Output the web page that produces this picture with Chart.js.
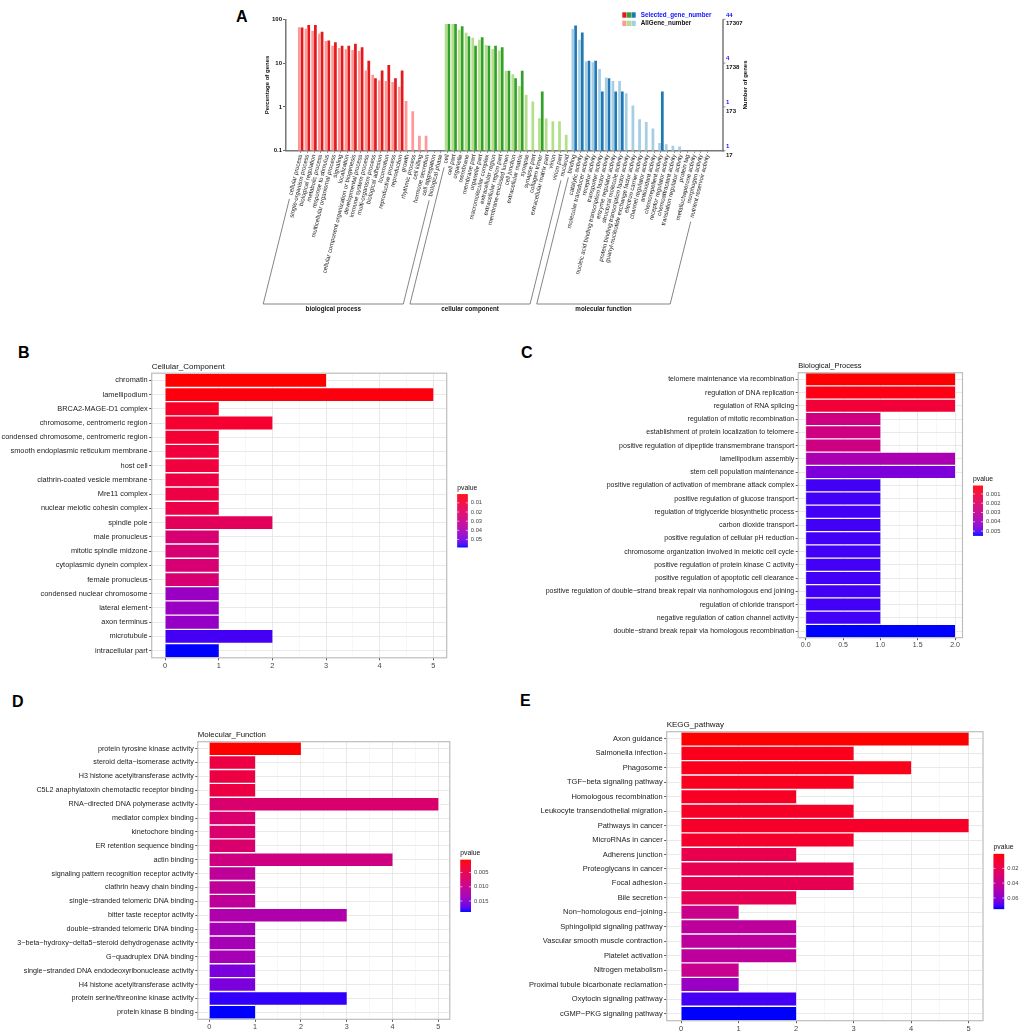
<!DOCTYPE html>
<html>
<head>
<meta charset="utf-8">
<script src="https://cdn.jsdelivr.net/npm/chart.js@4.4.1/dist/chart.umd.min.js"></script>
<style>
  body { margin: 0; background: #fff; }
  #page { position: relative; width: 1021px; height: 1032px; overflow: hidden;
          font-family: "Liberation Sans", Arial, Helvetica, sans-serif; }
  canvas { position: absolute; }
  .tag { position: absolute; font-weight: bold; font-size: 16px; line-height: 16px; color: #000; }
</style>
</head>
<body>
<div id="page">
  <div class="tag" style="left:236px;top:9px">A</div>
  <div class="tag" style="left:18px;top:345px">B</div>
  <div class="tag" style="left:521px;top:345px">C</div>
  <div class="tag" style="left:12px;top:694px">D</div>
  <div class="tag" style="left:520px;top:693px">E</div>
  <canvas id="goChart" width="540" height="325" style="left:230px;top:0"></canvas>
  <canvas id="ccChart" width="520" height="330" style="left:0;top:340px"></canvas>
  <canvas id="bpChart" width="501" height="330" style="left:520px;top:340px"></canvas>
  <canvas id="mfChart" width="520" height="352" style="left:0;top:680px"></canvas>
  <canvas id="keggChart" width="501" height="352" style="left:520px;top:680px"></canvas>
</div>
<script>
// ---- panel A : GO classification (percent of genes, log scale) ----
const goBpTerms = ['cellular process', 'single-organism process', 'biological regulation', 'metabolic process',
  'response to stimulus', 'multicellular organismal process', 'signaling', 'localization',
  'cellular component organization or biogenesis', 'developmental process', 'immune system process',
  'multi-organism process', 'biological adhesion', 'locomotion', 'reproductive process', 'reproduction',
  'growth', 'rhythmic process', 'cell killing', 'hormone secretion', 'cell aggregation', 'biological phase'];
const goBpAll = [66, 61, 55, 47, 32, 25, 22, 20.6, 20, 19, 6.8, 5.4, 4.0, 3.9, 3.7, 2.9, 1.37, 0.8, 0.22, 0.22, null, null];
const goBpSel = [65, 74, 74, 52, 33, 30, 25, 25, 27.7, 23, 11.3, 4.5, 6.8, 9.0, 4.5, 6.8, null, null, null, null, null, null];

const goCcTerms = ['cell', 'cell part', 'organelle', 'membrane', 'membrane part', 'organelle part',
  'macromolecular complex', 'extracellular region', 'extracellular region part', 'membrane-enclosed lumen',
  'cell junction', 'extracellular matrix', 'synapse', 'synapse part', 'collagen trimer',
  'extracellular matrix part', 'virion', 'virion part', 'nucleoid'];
const goCcAll = [78, 78, 58, 49.6, 38, 34, 25.8, 21, 19.5, 6.7, 5.6, 3.0, 1.9, 1.32, 0.55, 0.54, 0.47, 0.47, 0.23];
const goCcSel = [78, 78, 69, 41, 25, 39, 25, 25, 23, 6.7, 4.5, 6.7, null, null, 2.24, null, null, null, null];

const goMfTerms = ['binding', 'catalytic activity', 'molecular transducer activity', 'receptor activity',
  'transporter activity', 'nucleic acid binding transcription factor activity', 'enzyme regulator activity',
  'structural molecule activity', 'protein binding transcription factor activity',
  'guanyl-nucleotide exchange factor activity', 'electron carrier activity', 'channel regulator activity',
  'antioxidant activity', 'chemorepellent activity', 'receptor regulator activity', 'chemoattractant activity',
  'translation regulator activity', 'protein tag', 'metallochaperone activity', 'morphogen activity',
  'nutrient reservoir activity'];
const goMfAll = [60, 34, 10.9, 10.4, 7.3, 4.7, 3.9, 3.9, 2.06, 1.07, 0.52, 0.45, 0.32, 0.15, 0.14, 0.13, 0.125, null, null, null, null];
const goMfSel = [72, 50, 11.3, 11.3, 2.24, 4.5, 2.24, 2.24, null, null, null, null, null, 2.24, null, null, null, null, null, null, null];

const goGroupNames = ['biological process', 'cellular component', 'molecular function'];
const goLeftTicks = [0.1, 1, 10, 100];
const goLeftTickLabels = ['0.1', '1', '10', '100'];
const goRightSelLabels = ['1', '1', '4', '44'];
const goRightAllLabels = ['17', '173', '1738', '17307'];

// ---- panel B : Cellular_Component ----
const cellCompTerms = ['chromatin', 'lamellipodium', 'BRCA2-MAGE-D1 complex', 'chromosome, centromeric region',
  'condensed chromosome, centromeric region', 'smooth endoplasmic reticulum membrane', 'host cell',
  'clathrin-coated vesicle membrane', 'Mre11 complex', 'nuclear meiotic cohesin complex', 'spindle pole',
  'male pronucleus', 'mitotic spindle midzone', 'cytoplasmic dynein complex', 'female pronucleus',
  'condensed nuclear chromosome', 'lateral element', 'axon terminus', 'microtubule', 'intracellular part'];
const cellCompCounts = [3, 5, 1, 2, 1, 1, 1, 1, 1, 1, 2, 1, 1, 1, 1, 1, 1, 1, 2, 1];
const cellCompPvals = [0.0005, 0.0017, 0.0063, 0.0074, 0.0086, 0.0103, 0.0103, 0.012, 0.012, 0.0132, 0.0178,
  0.0235, 0.0235, 0.0235, 0.0235, 0.0436, 0.0436, 0.0448, 0.0557, 0.058];
const cellCompXTicks = [0, 1, 2, 3, 4, 5];
const cellCompXLabels = ['0', '1', '2', '3', '4', '5'];
const cellCompLegendTicks = [0.01, 0.02, 0.03, 0.04, 0.05];
const cellCompLegendLabels = ['0.01', '0.02', '0.03', '0.04', '0.05'];

// ---- panel C : Biological_Process ----
const bioProcTerms = ['telomere maintenance via recombination', 'regulation of DNA replication',
  'regulation of RNA splicing', 'regulation of mitotic recombination',
  'establishment of protein localization to telomere', 'positive regulation of dipeptide transmembrane transport',
  'lamellipodium assembly', 'stem cell population maintenance',
  'positive regulation of activation of membrane attack complex', 'positive regulation of glucose transport',
  'regulation of triglyceride biosynthetic process', 'carbon dioxide transport',
  'positive regulation of cellular pH reduction', 'chromosome organization involved in meiotic cell cycle',
  'positive regulation of protein kinase C activity', 'positive regulation of apoptotic cell clearance',
  'positive regulation of double\u2212strand break repair via nonhomologous end joining',
  'regulation of chloride transport', 'negative regulation of cation channel activity',
  'double\u2212strand break repair via homologous recombination'];
const bioProcCounts = [2, 2, 2, 1, 1, 1, 2, 2, 1, 1, 1, 1, 1, 1, 1, 1, 1, 1, 1, 2];
const bioProcPvals = [0.0001, 0.0003, 0.0009, 0.0026, 0.0026, 0.0026, 0.0037, 0.0046, 0.0052, 0.0052,
  0.0052, 0.0052, 0.0052, 0.0052, 0.0052, 0.0052, 0.0052, 0.0052, 0.0052, 0.0054];
const bioProcXTicks = [0, 0.5, 1, 1.5, 2];
const bioProcXLabels = ['0.0', '0.5', '1.0', '1.5', '2.0'];
const bioProcLegendTicks = [0.001, 0.002, 0.003, 0.004, 0.005];
const bioProcLegendLabels = ['0.001', '0.002', '0.003', '0.004', '0.005'];

// ---- panel D : Molecular_Function ----
const molFuncTerms = ['protein tyrosine kinase activity', 'steroid delta\u2212isomerase activity',
  'H3 histone acetyltransferase activity', 'C5L2 anaphylatoxin chemotactic receptor binding',
  'RNA\u2212directed DNA polymerase activity', 'mediator complex binding', 'kinetochore binding',
  'ER retention sequence binding', 'actin binding', 'signaling pattern recognition receptor activity',
  'clathrin heavy chain binding', 'single\u2212stranded telomeric DNA binding', 'bitter taste receptor activity',
  'double\u2212stranded telomeric DNA binding', '3\u2212beta\u2212hydroxy\u2212delta5\u2212steroid dehydrogenase activity',
  'G\u2212quadruplex DNA binding', 'single\u2212stranded DNA endodeoxyribonuclease activity',
  'H4 histone acetyltransferase activity', 'protein serine/threonine kinase activity', 'protein kinase B binding'];
const molFuncCounts = [2, 1, 1, 1, 5, 1, 1, 1, 4, 1, 1, 1, 3, 1, 1, 1, 1, 1, 3, 1];
const molFuncPvals = [0.0005, 0.0041, 0.0041, 0.0041, 0.0074, 0.0074, 0.0074, 0.0074, 0.0088, 0.0108, 0.0108,
  0.0108, 0.0123, 0.0132, 0.0132, 0.0132, 0.0159, 0.0159, 0.0182, 0.0186];
const molFuncXTicks = [0, 1, 2, 3, 4, 5];
const molFuncXLabels = ['0', '1', '2', '3', '4', '5'];
const molFuncLegendTicks = [0.005, 0.010, 0.015];
const molFuncLegendLabels = ['0.005', '0.010', '0.015'];

// ---- panel E : KEGG_pathway ----
const keggTerms = ['Axon guidance', 'Salmonella infection', 'Phagosome', 'TGF\u2212beta signaling pathway',
  'Homologous recombination', 'Leukocyte transendothelial migration', 'Pathways in cancer', 'MicroRNAs in cancer',
  'Adherens junction', 'Proteoglycans in cancer', 'Focal adhesion', 'Bile secretion',
  'Non\u2212homologous end\u2212joining', 'Sphingolipid signaling pathway', 'Vascular smooth muscle contraction',
  'Platelet activation', 'Nitrogen metabolism', 'Proximal tubule bicarbonate reclamation',
  'Oxytocin signaling pathway', 'cGMP\u2212PKG signaling pathway'];
const keggCounts = [5, 3, 4, 3, 2, 3, 5, 3, 2, 3, 3, 2, 1, 2, 2, 2, 1, 1, 2, 2];
const keggPvals = [0.0003, 0.004, 0.0047, 0.0055, 0.0062, 0.007, 0.0077, 0.0085, 0.0188, 0.019, 0.0195, 0.02,
  0.0374, 0.0433, 0.0433, 0.0435, 0.0388, 0.0559, 0.0714, 0.0744];
const keggXTicks = [0, 1, 2, 3, 4, 5];
const keggXLabels = ['0', '1', '2', '3', '4', '5'];
const keggLegendTicks = [0.02, 0.04, 0.06];
const keggLegendLabels = ['0.02', '0.04', '0.06'];

const FONT = '"Liberation Sans", Arial, Helvetica, sans-serif';
Chart.defaults.font.family = FONT;

// red -> blue gradient interpolated in Lab, like ggplot's scale_fill_gradient
function toLin(c) { c /= 255; return c <= 0.04045 ? c / 12.92 : Math.pow((c + 0.055) / 1.055, 2.4); }
function fromLin(c) {
  const v = c <= 0.0031308 ? 12.92 * c : 1.055 * Math.pow(c, 1 / 2.4) - 0.055;
  return Math.round(Math.max(0, Math.min(1, v)) * 255);
}
function hexToLab(hex) {
  const r = toLin(parseInt(hex.slice(1, 3), 16)), g = toLin(parseInt(hex.slice(3, 5), 16)), b = toLin(parseInt(hex.slice(5, 7), 16));
  const X = (0.4124 * r + 0.3576 * g + 0.1805 * b) / 0.95047;
  const Y = 0.2126 * r + 0.7152 * g + 0.0722 * b;
  const Z = (0.0193 * r + 0.1192 * g + 0.9505 * b) / 1.08883;
  const f = t => t > 0.008856 ? Math.cbrt(t) : 7.787 * t + 16 / 116;
  return [116 * f(Y) - 16, 500 * (f(X) - f(Y)), 200 * (f(Y) - f(Z))];
}
function labToRgb(L, a, bb) {
  const fy = (L + 16) / 116, fx = a / 500 + fy, fz = fy - bb / 200;
  const inv = t => t * t * t > 0.008856 ? t * t * t : (t - 16 / 116) / 7.787;
  const X = 0.95047 * inv(fx), Y = inv(fy), Z = 1.08883 * inv(fz);
  const r = 3.2406 * X - 1.5372 * Y - 0.4986 * Z;
  const g = -0.9689 * X + 1.8758 * Y + 0.0415 * Z;
  const b = 0.0557 * X - 0.2040 * Y + 1.0570 * Z;
  return 'rgb(' + fromLin(r) + ',' + fromLin(g) + ',' + fromLin(b) + ')';
}
const labLow = hexToLab('#FF0000'), labHigh = hexToLab('#0000FF');
function gradColor(t) {
  t = Math.max(0, Math.min(1, t));
  return labToRgb(labLow[0] + (labHigh[0] - labLow[0]) * t,
                  labLow[1] + (labHigh[1] - labLow[1]) * t,
                  labLow[2] + (labHigh[2] - labLow[2]) * t);
}

// ---------- panel A ----------
const goLight = ['#FB9A99', '#B2DF8A', '#A6CEE3'];
const goDark = ['#E31A1C', '#33A02C', '#1F78B4'];
const goGroupTerms = [goBpTerms, goCcTerms, goMfTerms];
const goTerms = [].concat(goBpTerms, goCcTerms, goMfTerms);
const goAll = [].concat(goBpAll, goCcAll, goMfAll);
const goSel = [].concat(goBpSel, goCcSel, goMfSel);
const goGroupIdx = [];
goGroupTerms.forEach((arr, g) => arr.forEach(() => goGroupIdx.push(g)));

const goDecor = {
  id: 'goDecor',
  afterDraw(chart) {
    const ctx = chart.ctx, ca = chart.chartArea, ys = chart.scales.y, xs = chart.scales.x;
    ctx.save();
    // right axis
    ctx.strokeStyle = '#777';
    ctx.lineWidth = 1.5;
    ctx.beginPath();
    ctx.moveTo(ca.right, ca.top);
    ctx.lineTo(ca.right, ca.bottom + 0.75);
    ctx.stroke();
    ctx.font = 'bold 6px ' + FONT;
    ctx.textAlign = 'left';
    ctx.textBaseline = 'middle';
    ctx.lineWidth = 0.8;
    goLeftTicks.forEach((v, i) => {
      const py = ys.getPixelForValue(v);
      ctx.beginPath();
      ctx.moveTo(ca.right, py);
      ctx.lineTo(ca.right + 2.5, py);
      ctx.stroke();
      ctx.fillStyle = '#1010ff';
      ctx.fillText(goRightSelLabels[i], ca.right + 3, py - 4.3);
      ctx.fillStyle = '#111';
      ctx.fillText(goRightAllLabels[i], ca.right + 3, py + 4.3);
    });
    // right axis title
    ctx.save();
    ctx.translate(ca.right + 22, (ca.top + ca.bottom) / 2);
    ctx.rotate(-Math.PI / 2);
    ctx.textAlign = 'center';
    ctx.fillStyle = '#111';
    ctx.fillText('Number of genes', 0, 0);
    ctx.restore();

    // legend
    const lx = ca.right - 100.7;
    for (let g = 0; g < 3; g++) {
      ctx.fillStyle = goDark[g];
      ctx.fillRect(lx + g * 4.6, ca.top - 7, 4.2, 5.4);
      ctx.fillStyle = goLight[g];
      ctx.fillRect(lx + g * 4.6, ca.top + 1.4, 4.2, 5.4);
    }
    ctx.font = 'bold 6.3px ' + FONT;
    ctx.fillStyle = '#1010ff';
    ctx.fillText('Selected_gene_number', lx + 18.5, ca.top - 4.3);
    ctx.fillStyle = '#111';
    ctx.fillText('AllGene_number', lx + 18.5, ca.top + 4.2);

    // group brackets under the rotated labels
    const rot = xs.labelRotation * Math.PI / 180;
    const y0 = ca.bottom + 3;
    const yb = ca.bottom + 153.3;
    ctx.font = '6px ' + FONT;
    ctx.strokeStyle = '#666';
    ctx.lineWidth = 0.8;
    let start = 0;
    goGroupTerms.forEach((terms, g) => {
      const edge = i => {
        const px = xs.getPixelForValue(i);
        const w = ctx.measureText(goTerms[i]).width + 5;
        return { tx: px - w * Math.cos(rot), ty: y0 + w * Math.sin(rot), bx: px - (yb - y0) / Math.tan(rot) };
      };
      const a = edge(start), b = edge(start + terms.length - 1);
      start += terms.length;
      ctx.beginPath();
      ctx.moveTo(a.tx, a.ty);
      ctx.lineTo(a.bx, yb);
      ctx.lineTo(b.bx, yb);
      ctx.lineTo(b.tx, b.ty);
      ctx.stroke();
      ctx.save();
      ctx.font = 'bold 6.3px ' + FONT;
      ctx.fillStyle = '#111';
      ctx.textAlign = 'center';
      ctx.fillText(goGroupNames[g], (a.bx + b.bx) / 2, yb + 4.8);
      ctx.restore();
    });
    ctx.restore();
  }
};

new Chart(document.getElementById('goChart'), {
  type: 'bar',
  data: {
    datasets: [
      { label: 'AllGene_number', data: goAll.map((v, i) => ({ x: i, y: v })),
        backgroundColor: goGroupIdx.map(g => goLight[g]), categoryPercentage: 0.82, barPercentage: 1 },
      { label: 'Selected_gene_number', data: goSel.map((v, i) => ({ x: i, y: v })),
        backgroundColor: goGroupIdx.map(g => goDark[g]), categoryPercentage: 0.82, barPercentage: 1 }
    ]
  },
  options: {
    responsive: false,
    animation: false,
    layout: { padding: { left: 34, top: 19.3, right: 47, bottom: 0 } },
    plugins: { legend: { display: false }, tooltip: { enabled: false } },
    scales: {
      x: {
        type: 'linear', min: -2.2, max: 63.3, offset: false,
        afterBuildTicks: s => { s.ticks = goTerms.map((t, i) => ({ value: i })); },
        afterFit: s => { s.height = 174.3; },
        ticks: { autoSkip: false, minRotation: 76, maxRotation: 76, padding: 1,
                 font: { size: 6 }, color: '#222', callback: (v, i) => goTerms[i] },
        grid: { drawOnChartArea: false, offset: false, tickLength: 2, color: '#666' },
        border: { color: '#777', width: 1.5 }
      },
      y: {
        type: 'logarithmic', min: 0.1, max: 100,
        afterBuildTicks: s => { s.ticks = goLeftTicks.map(v => ({ value: v })); },
        afterFit: s => { s.width = 22; },
        ticks: { padding: 1, font: { size: 6, weight: 'bold' }, color: '#111',
                 callback: (v, i) => goLeftTickLabels[i] },
        grid: { drawOnChartArea: false, tickLength: 3, color: '#666' },
        border: { color: '#777', width: 1.5 },
        title: { display: true, text: 'Percentage of genes', color: '#111',
                 font: { size: 6, weight: 'bold' }, padding: { top: 0, bottom: 0 } }
      }
    }
  },
  plugins: [goDecor]
});

// ---------- panels B-E : ggplot style enrichment bars ----------
const ggDecor = {
  id: 'ggDecor',
  afterDraw(chart, args, o) {
    const ctx = chart.ctx, ca = chart.chartArea;
    ctx.save();
    // panel border
    ctx.strokeStyle = '#BDBDBD';
    ctx.lineWidth = 1.2;
    ctx.strokeRect(ca.left, ca.top, ca.right - ca.left, ca.bottom - ca.top);
    // title
    ctx.fillStyle = '#111';
    ctx.font = o.titleSize + 'px ' + FONT;
    ctx.textAlign = 'left';
    ctx.textBaseline = 'alphabetic';
    ctx.fillText(o.title, ca.left, ca.top - 4.5);
    // colour bar legend
    const lx = ca.right + 10.5, bw = o.barW, bh = o.barH;
    const top = (ca.top + ca.bottom) / 2 - bh / 2 + 5;
    for (let k = 0; k < bh; k++) {
      ctx.fillStyle = gradColor(k / (bh - 1));
      ctx.fillRect(lx, top + k, bw, 1.3);
    }
    ctx.fillStyle = '#111';
    ctx.font = '6.8px ' + FONT;
    ctx.textBaseline = 'middle';
    ctx.fillText('pvalue', lx, top - 6.5);
    ctx.font = '5.8px ' + FONT;
    ctx.fillStyle = '#444';
    ctx.strokeStyle = '#fff';
    ctx.lineWidth = 0.6;
    o.ticks.forEach((v, i) => {
      const py = top + (v - o.pmin) / (o.pmax - o.pmin) * bh;
      ctx.beginPath();
      ctx.moveTo(lx, py); ctx.lineTo(lx + 2, py);
      ctx.moveTo(lx + bw - 2, py); ctx.lineTo(lx + bw, py);
      ctx.stroke();
      ctx.fillText(o.labels[i], lx + bw + 3, py);
    });
    ctx.restore();
  }
};

function ggBarChart(id, terms, counts, pvals, xTicks, xLabels, legTicks, legLabels, cfg) {
  const cv = document.getElementById(id);
  const pmin = Math.min(...pvals), pmax = Math.max(...pvals);
  const cmax = Math.max(...counts);
  const gridVals = [];
  xTicks.forEach((v, i) => {
    gridVals.push(v);
    if (i < xTicks.length - 1) gridVals.push((v + xTicks[i + 1]) / 2);
  });
  const isMajor = v => xTicks.indexOf(v) >= 0;
  const font = { size: cfg.font };
  new Chart(cv, {
    type: 'bar',
    data: {
      labels: terms,
      datasets: [{
        data: counts,
        backgroundColor: pvals.map(p => gradColor((p - pmin) / (pmax - pmin))),
        barPercentage: 0.9,
        categoryPercentage: 1
      }]
    },
    options: {
      indexAxis: 'y',
      responsive: false,
      animation: false,
      layout: { padding: { left: 0, top: cfg.box.t, right: cv.width - cfg.box.r, bottom: cv.height - cfg.box.b - 14 } },
      plugins: {
        legend: { display: false },
        tooltip: { enabled: false },
        ggDecor: { title: cfg.title, titleSize: cfg.titleSize, pmin, pmax, ticks: legTicks, labels: legLabels,
                   barW: cfg.barW, barH: cfg.barH }
      },
      scales: {
        x: {
          type: 'linear', min: -0.05 * cmax, max: 1.05 * cmax,
          afterBuildTicks: s => { s.ticks = gridVals.map(v => ({ value: v })); },
          afterFit: s => { s.height = 14; },
          ticks: { autoSkip: false, maxRotation: 0, padding: 1, font, color: '#444',
                   callback: v => { const j = xTicks.indexOf(v); return j < 0 ? '' : xLabels[j]; } },
          grid: {
            color: c => isMajor(c.tick.value) ? '#E6E6E6' : '#F2F2F2',
            lineWidth: c => isMajor(c.tick.value) ? 0.9 : 0.6,
            tickColor: c => isMajor(c.tick.value) ? '#444' : 'rgba(0,0,0,0)',
            tickLength: 2.5
          },
          border: { display: false }
        },
        y: {
          afterFit: s => { s.width = cfg.box.l; },
          ticks: { autoSkip: false, padding: 1.5, font, color: '#222' },
          grid: { offset: false, color: '#E6E6E6', lineWidth: 0.9, tickColor: '#444', tickLength: 2.5 },
          border: { display: false }
        }
      }
    },
    plugins: [ggDecor]
  });
}

ggBarChart('ccChart', cellCompTerms, cellCompCounts, cellCompPvals, cellCompXTicks, cellCompXLabels,
  cellCompLegendTicks, cellCompLegendLabels,
  { title: 'Cellular_Component', titleSize: 8, font: 7.4, barW: 10.6, barH: 52.7,
    box: { l: 151.7, t: 33.2, r: 446.7, b: 317.8 } });

ggBarChart('bpChart', bioProcTerms, bioProcCounts, bioProcPvals, bioProcXTicks, bioProcXLabels,
  bioProcLegendTicks, bioProcLegendLabels,
  { title: 'Biological_Process', titleSize: 7.5, font: 7, barW: 10, barH: 49.3,
    box: { l: 278.2, t: 32.7, r: 442.5, b: 297.7 } });

ggBarChart('mfChart', molFuncTerms, molFuncCounts, molFuncPvals, molFuncXTicks, molFuncXLabels,
  molFuncLegendTicks, molFuncLegendLabels,
  { title: 'Molecular_Function', titleSize: 7.8, font: 7.2, barW: 10.7, barH: 51.7,
    box: { l: 197.8, t: 61.7, r: 449.8, b: 339.3 } });

ggBarChart('keggChart', keggTerms, keggCounts, keggPvals, keggXTicks, keggXLabels,
  keggLegendTicks, keggLegendLabels,
  { title: 'KEGG_pathway', titleSize: 8, font: 7.5, barW: 10.7, barH: 54.7,
    box: { l: 146.7, t: 51.7, r: 463, b: 340.7 } });
</script>
</body>
</html>
